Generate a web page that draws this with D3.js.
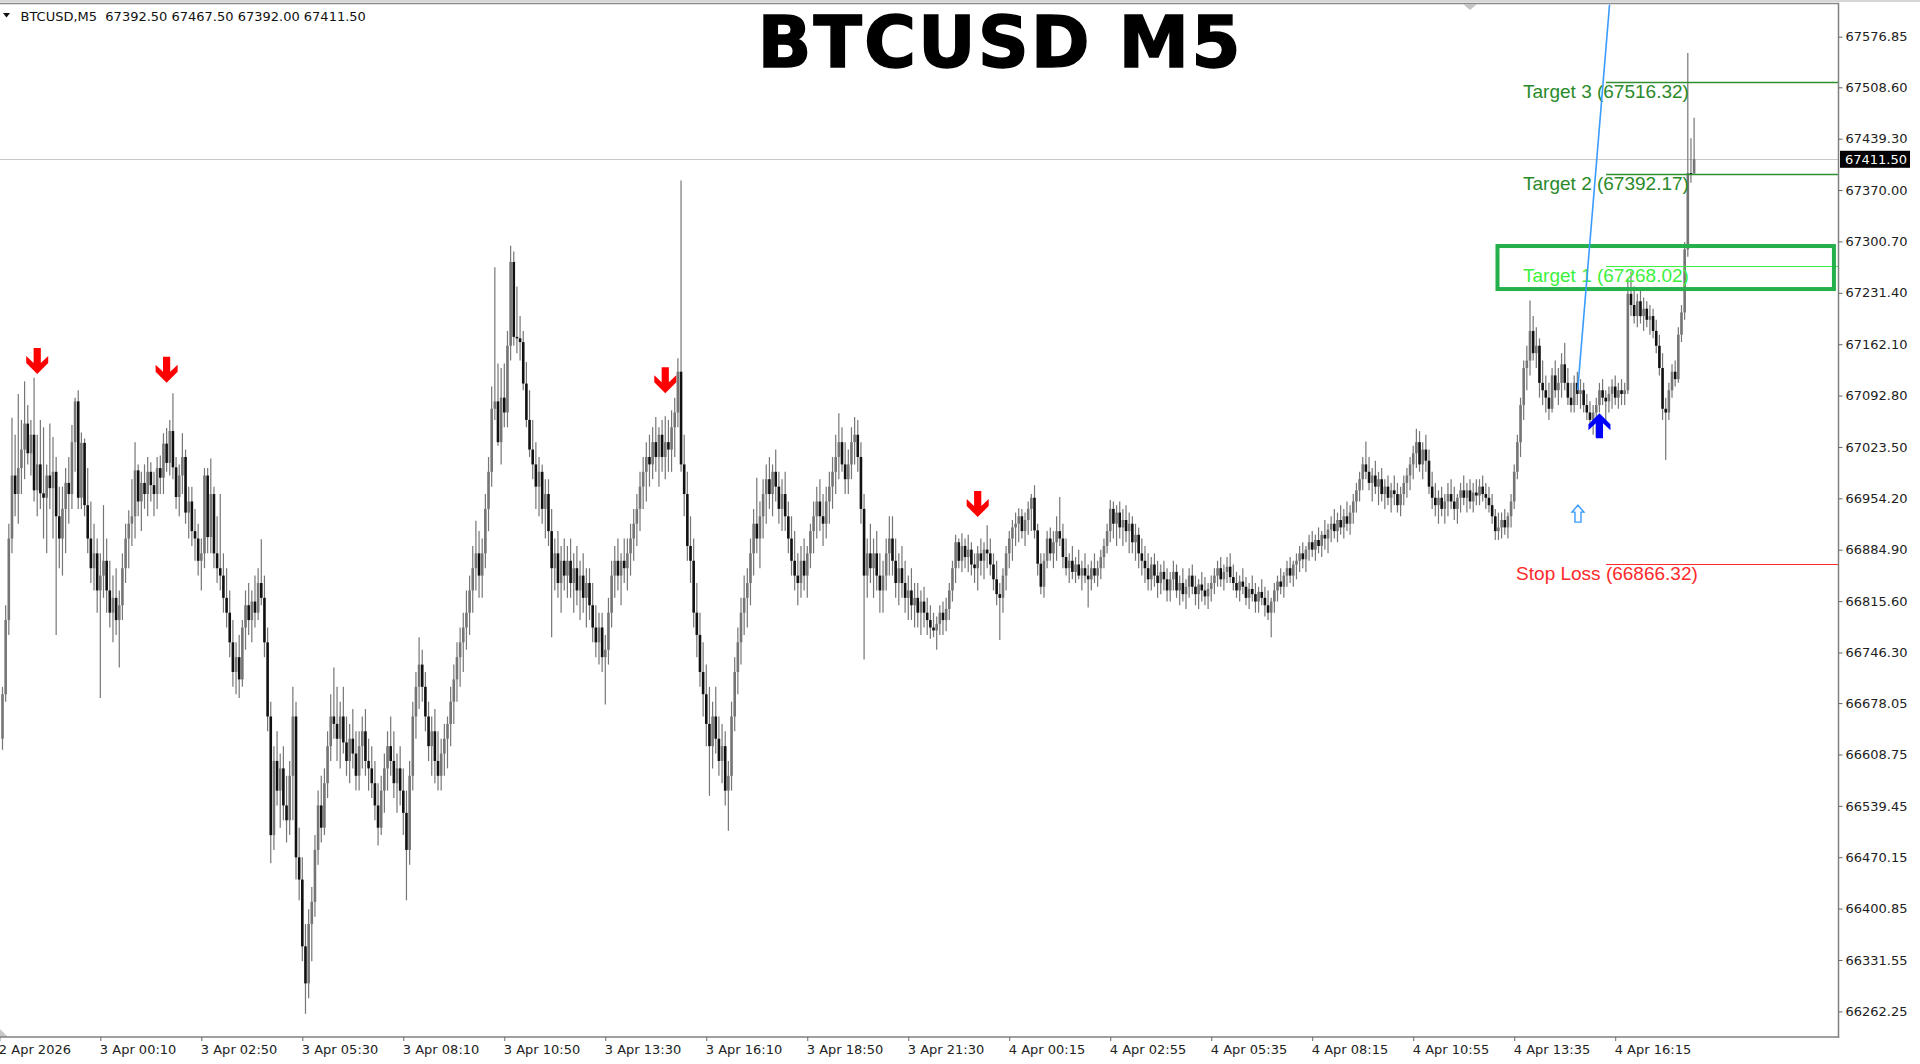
<!DOCTYPE html>
<html><head><meta charset="utf-8">
<script src="https://cdn.jsdelivr.net/npm/d3@7"></script>
<style>html,body{margin:0;padding:0;background:#fff;overflow:hidden}svg{display:block}</style>
</head><body>
<svg id="c" width="1920" height="1064"></svg>
<script>
// ---------------- DATA ----------------
const opens = [
66630,66690,66790,66900,66985,66960,66995,67020,67055,67015,
67040,66965,67000,66961,66955,66985,66968,66990,66930,66900,
66940,66975,66960,67030,67085,66955,67029,66945,66900,66860,
66880,66830,66850,66870,66830,66800,66820,66790,66810,66860,
66900,66920,66930,66992,66950,66975,66960,66990,66972,66960,
66995,66982,67028,67002,67045,66996,66956,66985,67010,66935,
66950,66910,66900,66870,66880,66985,66902,66960,66880,66860,
66850,66820,66800,66760,66720,66740,66710,66780,66810,66790,
66815,66800,66840,66820,66760,66660,66500,66600,66560,66590,
66540,66520,66580,66660,66470,66440,66350,66300,66380,66410,
66480,66540,66510,66570,66620,66660,66650,66630,66660,66625,
66600,66630,66610,66580,66620,66640,66600,66590,66570,66540,
66510,66560,66590,66620,66600,66570,66590,66560,66530,66480,
66580,66660,66700,66730,66700,66660,66620,66640,66600,66580,
66610,66630,66650,66680,66710,66740,66760,66780,66800,66830,
66860,66880,66850,66880,66940,66990,67075,67085,67030,67090,
67070,67160,67273,67172,67170,67165,67109,67060,67020,67000,
66970,66990,66940,66960,66910,66860,66880,66840,66870,66850,
66870,66840,66860,66830,66850,66820,66840,66810,66780,66760,
66780,66740,66750,66800,66850,66870,66850,66870,66860,66880,
66900,66920,66940,66970,66990,67010,67000,67030,67010,67040,
67010,67030,67020,67050,67070,67125,67000,66960,66890,66870,
66800,66770,66720,66690,66650,66620,66660,66630,66600,66620,
66560,66580,66660,66720,66760,66800,66820,66840,66880,66920,
66900,66930,66960,66980,66960,66990,66970,66940,66960,66930,
66900,66870,66850,66840,66870,66850,66880,66910,66930,66950,
66930,66920,66950,66970,66990,67010,67030,67000,66980,67000,
67030,67040,67010,66940,66850,66880,66860,66880,66850,66830,
66850,66880,66900,66870,66840,66860,66840,66820,66830,66810,
66820,66800,66815,66800,66790,66780,66776,66785,66800,66790,
66805,66830,66860,66895,66870,66890,66875,66885,66865,66860,
66880,66870,66885,66880,66865,66845,66825,66820,66850,66880,
66900,66915,66920,66930,66910,66925,66940,66955,66911,66866,
66835,66870,66900,66880,66895,66910,66900,66875,66860,66870,
66855,66865,66850,66860,66850,66845,66860,66850,66860,66875,
66890,66910,66940,66920,66935,66915,66925,66910,66920,66895,
66905,66880,66870,66860,66845,66865,66850,66840,66855,66845,
66830,66845,66855,66830,66840,66825,66835,66850,66835,66825,
66838,66830,66822,66832,66840,66850,66860,66845,66855,66862,
66848,66840,66830,66842,66835,66820,66832,66825,66815,66828,
66820,66810,66800,66815,66830,66842,66835,66850,66860,66850,
66865,66870,66880,66872,66885,66895,66885,66898,66890,66905,
66900,66912,66920,66910,66925,66915,66930,66920,66935,66950,
66965,66980,67000,66990,66975,66985,66970,66980,66960,66970,
66955,66965,66960,66945,66960,66975,66985,67000,67015,67030,
67000,67020,67005,66970,66955,66945,66955,66940,66950,66960,
66950,66940,66955,66965,66955,66965,66950,66962,66958,66970,
66960,66955,66945,66930,66910,66915,66925,66915,66930,66950,
66990,67030,67080,67130,67140,67180,67150,67160,67110,67100,
67090,67075,67120,67100,67110,67135,67110,67090,67080,67110,
67095,67100,67080,67070,67060,67070,67080,67100,67090,67085,
67095,67105,67090,67100,67095,67100,67230,67215,67200,67220,
67200,67210,67195,67200,67180,67160,67130,67075,67070,67100,
67125,67115,67175,67205,67290,67393,67392.5];
const highs = [
66700,66810,66920,67063,67040,67095,67060,67112,67080,67060,
67117,67040,67060,67050,67000,67055,67037,67010,66970,66970,
66995,67010,67053,67090,67100,67043,67035,66995,66950,66920,
66900,66880,66945,66900,66870,66850,66860,66830,66880,66920,
66938,66980,67030,67000,66990,67000,67010,67003,66990,67010,
67012,67042,67049,67060,67096,67010,67000,67042,67020,66970,
66970,66940,66920,66900,66995,66995,67008,66970,66930,66960,
66880,66860,66830,66790,66760,66770,66790,66830,66840,66830,
66850,66860,66899,66850,66780,66680,66620,66640,66610,66620,
66580,66600,66700,66680,66510,66470,66380,66400,66430,66500,
66560,66580,66590,66640,66690,66726,66700,66680,66700,66660,
66650,66670,66640,66640,66660,66670,66630,66620,66600,66570,
66580,66610,66640,66660,66640,66610,66620,66590,66560,66600,
66680,66720,66767,66750,66720,66680,66660,66670,66640,66630,
66650,66660,66700,66730,66760,66780,66800,66830,66850,66890,
66924,66910,66900,66960,67010,67105,67266,67136,67130,67136,
67180,67295,67287,67240,67200,67180,67138,67100,67060,67030,
67010,67000,66980,66980,66940,66900,66910,66890,66900,66890,
66900,66880,66890,66870,66880,66860,66860,66840,66810,66800,
66800,66770,66820,66870,66890,66900,66880,66900,66900,66920,
66940,66960,66990,67010,67030,67040,67050,67064,67050,67060,
67065,67060,67073,67090,67143,67383,67040,66990,66930,66900,
66840,66800,66760,66730,66700,66680,66700,66660,66650,66640,
66600,66680,66740,66780,66820,66850,66860,66900,66940,66982,
66950,66980,67000,67010,67000,67020,66990,66980,66990,66950,
66930,66910,66880,66890,66900,66890,66920,66950,66970,66980,
66960,66970,66990,67010,67040,67069,67050,67030,67020,67050,
67064,67060,67030,66960,66900,66920,66900,66910,66880,66870,
66900,66930,66930,66900,66880,66890,66870,66850,66860,66840,
66840,66830,66835,66820,66810,66800,66795,66810,66815,66820,
66840,66870,66905,66900,66907,66900,66905,66895,66880,66890,
66900,66895,66918,66900,66880,66870,66840,66860,66890,66910,
66925,66935,66941,66940,66935,66950,66960,66972,66920,66880,
66880,66910,66915,66910,66930,66956,66920,66900,66880,66890,
66875,66885,66870,66880,66865,66870,66880,66870,66885,66900,
66920,66952,66950,66945,66950,66940,66945,66935,66930,66920,
66915,66900,66890,66880,66875,66880,66870,66865,66870,66860,
66855,66870,66865,66850,66860,66845,66860,66865,66850,66845,
66855,66848,66840,66850,66860,66870,66875,66865,66875,66880,
66865,66855,66850,66860,66848,66840,66850,66840,66835,66845,
66835,66830,66820,66840,66850,66860,66855,66870,66875,66870,
66880,66890,66895,66890,66905,66910,66905,66915,66910,66925,
66920,66930,66940,66935,66945,66940,66950,66945,66960,66975,
66990,67010,67031,67010,66995,67005,66990,66995,66980,66985,
66975,66985,66975,66970,66985,66995,67010,67025,67048,67045,
67030,67040,67020,66990,66975,66965,66970,66960,66975,66980,
66970,66960,66975,66985,66975,66980,66975,66980,66980,66985,
66975,66970,66960,66940,66935,66935,66940,66935,66960,67000,
67040,67090,67140,67160,67221,67200,67185,67170,67140,67120,
67110,67130,67140,67130,67150,67164,67130,67110,67120,67125,
67115,67110,67095,67085,67080,67090,67110,67115,67100,67105,
67115,67120,67110,67115,67110,67250,67260,67240,67230,67235,
67225,67220,67215,67210,67195,67175,67150,67090,67110,67135,
67140,67185,67215,67300,67555,67440,67467.5];
const lows = [
66615,66680,66770,66880,66930,66920,66960,66980,67000,66985,
66950,66930,66940,66900,66880,66940,66900,66770,66860,66850,
66880,66920,66940,66990,66940,66940,66930,66880,66840,66830,
66800,66685,66820,66800,66780,66760,66770,66726,66790,66840,
66860,66890,66900,66930,66910,66940,66930,66950,66930,66940,
66960,66960,66990,66985,66980,66940,66930,66960,66920,66900,
66890,66870,66850,66830,66860,66880,66880,66860,66840,66830,
66800,66780,66740,66700,66690,66685,66700,66750,66770,66760,
66780,66790,66810,66740,66640,66462,66480,66540,66510,66520,
66490,66500,66520,66440,66412,66330,66259,66280,66330,66390,
66460,66490,66500,66550,66600,66630,66600,66590,66610,66580,
66570,66590,66560,66560,66590,66580,66560,66550,66520,66486,
66500,66530,66560,66580,66550,66530,66540,66500,66412,66460,
66560,66630,66670,66680,66640,66600,66580,66570,66560,66560,
66580,66590,66620,66650,66680,66700,66720,66750,66770,66800,
66830,66820,66820,66860,66910,66970,67060,67025,67000,67050,
67050,67140,67160,67150,67140,67100,67050,67010,66980,66940,
66930,66920,66900,66890,66767,66830,66820,66800,66830,66820,
66820,66800,66810,66790,66800,66780,66790,66760,66740,66730,
66720,66676,66730,66780,66820,66830,66810,66840,66830,66850,
66870,66890,66910,66940,66950,66970,66980,66990,66970,66990,
66980,66990,66990,67010,67050,66990,66930,66870,66840,66780,
66740,66700,66660,66620,66553,66590,66610,66580,66570,66540,
66506,66560,66640,66690,66730,66770,66780,66810,66850,66880,
66860,66900,66920,66940,66930,66950,66920,66910,66910,66880,
66850,66830,66810,66820,66830,66820,66860,66880,66900,66910,
66890,66900,66920,66940,66960,66980,66990,66960,66960,66980,
67000,66990,66920,66737,66820,66840,66820,66830,66800,66800,
66830,66850,66850,66820,66810,66820,66800,66790,66790,66780,
66780,66770,66780,66770,66765,66767,66750,66770,66770,66775,
66790,66815,66840,66860,66855,66860,66855,66850,66840,66830,
66850,66845,66860,66850,66830,66810,66763,66800,66830,66860,
66870,66890,66895,66900,66890,66905,66910,66900,66850,66825,
66820,66860,66870,66860,66870,66890,66860,66850,66840,66845,
66840,66845,66830,66840,66807,66830,66840,66835,66845,66860,
66880,66895,66900,66890,66900,66890,66895,66880,66880,66870,
66860,66850,66840,66830,66830,66835,66820,66825,66830,66815,
66815,66830,66820,66810,66815,66805,66820,66825,66810,66805,
66815,66810,66805,66815,66825,66835,66835,66830,66840,66840,
66830,66820,66815,66825,66810,66805,66815,66800,66800,66810,
66795,66790,66767,66800,66815,66825,66820,66835,66840,66835,
66845,66855,66860,66855,66870,66875,66870,66880,66875,66885,
66880,66895,66900,66895,66905,66900,66910,66905,66920,66935,
66950,66965,66980,66965,66950,66960,66945,66950,66940,66945,
66935,66945,66935,66930,66945,66955,66965,66980,66995,66990,
66980,66990,66960,66940,66930,66920,66930,66920,66930,66940,
66925,66920,66935,66945,66935,66940,66935,66945,66945,66950,
66940,66935,66920,66898,66898,66900,66905,66900,66915,66940,
66980,67010,67060,67100,67120,67140,67130,67090,67080,67070,
67060,67070,67090,67080,67090,67100,67080,67070,67070,67080,
67075,67070,67060,67050,67040,67037,67070,67080,67060,67070,
67075,67080,67075,67080,67080,67095,67200,67190,67185,67190,
67180,67185,67175,67170,67150,67120,67060,67006,67060,67090,
67105,67110,67165,67195,67280,67380,67392];
const closes = [
66690,66790,66900,66985,66960,66995,67020,67055,67015,67040,
66965,67000,66961,66955,66985,66968,66990,66930,66900,66940,
66975,66960,67030,67085,66955,67029,66945,66900,66860,66880,
66830,66850,66870,66830,66800,66820,66790,66810,66860,66900,
66920,66930,66992,66950,66975,66960,66990,66972,66960,66995,
66982,67028,67002,67045,66996,66956,66985,67010,66935,66950,
66910,66900,66870,66880,66985,66902,66960,66880,66860,66850,
66820,66800,66760,66720,66740,66710,66780,66810,66790,66815,
66800,66840,66820,66760,66660,66500,66600,66560,66590,66540,
66520,66580,66660,66470,66440,66350,66300,66380,66410,66480,
66540,66510,66570,66620,66660,66650,66630,66660,66625,66600,
66630,66610,66580,66620,66640,66600,66590,66570,66540,66510,
66560,66590,66620,66600,66570,66590,66560,66530,66480,66580,
66660,66700,66730,66700,66660,66620,66640,66600,66580,66610,
66630,66650,66680,66710,66740,66760,66780,66800,66830,66860,
66880,66850,66880,66940,66990,67075,67085,67030,67090,67070,
67160,67273,67172,67170,67165,67109,67060,67020,67000,66970,
66990,66940,66960,66910,66860,66880,66840,66870,66850,66870,
66840,66860,66830,66850,66820,66840,66810,66780,66760,66780,
66740,66750,66800,66850,66870,66850,66870,66860,66880,66900,
66920,66940,66970,66990,67010,67000,67030,67010,67040,67010,
67030,67020,67050,67070,67125,67000,66960,66890,66870,66800,
66770,66720,66690,66650,66620,66660,66630,66600,66620,66560,
66580,66660,66720,66760,66800,66820,66840,66880,66920,66900,
66930,66960,66980,66960,66990,66970,66940,66960,66930,66900,
66870,66850,66840,66870,66850,66880,66910,66930,66950,66930,
66920,66950,66970,66990,67010,67030,67000,66980,67000,67030,
67040,67010,66940,66850,66880,66860,66880,66850,66830,66850,
66880,66900,66870,66840,66860,66840,66820,66830,66810,66820,
66800,66815,66800,66790,66780,66776,66785,66800,66790,66805,
66830,66860,66895,66870,66890,66875,66885,66865,66860,66880,
66870,66885,66880,66865,66845,66825,66820,66850,66880,66900,
66915,66920,66930,66910,66925,66940,66955,66911,66866,66835,
66870,66900,66880,66895,66910,66900,66875,66860,66870,66855,
66865,66850,66860,66850,66845,66860,66850,66860,66875,66890,
66910,66940,66920,66935,66915,66925,66910,66920,66895,66905,
66880,66870,66860,66845,66865,66850,66840,66855,66845,66830,
66845,66855,66830,66840,66825,66835,66850,66835,66825,66838,
66830,66822,66832,66840,66850,66860,66845,66855,66862,66848,
66840,66830,66842,66835,66820,66832,66825,66815,66828,66820,
66810,66800,66815,66830,66842,66835,66850,66860,66850,66865,
66870,66880,66872,66885,66895,66885,66898,66890,66905,66900,
66912,66920,66910,66925,66915,66930,66920,66935,66950,66965,
66980,67000,66990,66975,66985,66970,66980,66960,66970,66955,
66965,66960,66945,66960,66975,66985,67000,67015,67030,67000,
67020,67005,66970,66955,66945,66955,66940,66950,66960,66950,
66940,66955,66965,66955,66965,66950,66962,66958,66970,66960,
66955,66945,66930,66910,66915,66925,66915,66930,66950,66990,
67030,67080,67130,67140,67180,67150,67160,67110,67100,67090,
67075,67120,67100,67110,67135,67110,67090,67080,67110,67095,
67100,67080,67070,67060,67070,67080,67100,67090,67085,67095,
67105,67090,67100,67095,67100,67230,67215,67200,67220,67200,
67210,67195,67200,67180,67160,67130,67075,67070,67100,67125,
67115,67175,67205,67290,67393,67392,67411.5];

const priceTicks = [67576.85,67508.60,67439.30,67370.00,67300.70,67231.40,67162.10,67092.80,67023.50,66954.20,
  66884.90,66815.60,66746.30,66678.05,66608.75,66539.45,66470.15,66400.85,66331.55,66262.25];
const timeLabels = ["2 Apr 2026","3 Apr 00:10","3 Apr 02:50","3 Apr 05:30","3 Apr 08:10","3 Apr 10:50","3 Apr 13:30",
  "3 Apr 16:10","3 Apr 18:50","3 Apr 21:30","4 Apr 00:15","4 Apr 02:55","4 Apr 05:35","4 Apr 08:15","4 Apr 10:55",
  "4 Apr 13:35","4 Apr 16:15"];
const timeTickBars = [-1,31,63,95,127,159,191,223,255,287,319,351,383,415,447,479,511];

const headerText = "BTCUSD,M5  67392.50 67467.50 67392.00 67411.50";
const titleText = "BTCUSD M5";
const currentPrice = 67411.50;

const levelNames  = ["Target 3","Target 2","Target 1","Stop Loss"];
const levelPrices = [67516.32, 67392.17, 67268.02, 66866.32];
const levelLabelBars = [481.8, 481.8, 481.8, 479.6];
const levelStartBar = 508.1;
const levelLineColors = ["#2f8f2f","#2f8f2f","#3cf23c","#ff2a2a"];
const levelTextColors = ["#2a8a2a","#2a8a2a","#3cf03c","#ff2a2a"];

const sellArrowBars   = [11, 52, 210, 309];
const sellArrowPrices = [67122, 67110, 67096, 66929];
const buyArrowBars    = [506];
const buyArrowPrices  = [67069];
const hintArrowBars   = [499.2];
const hintArrowPrices = [66945];

const trendBars   = [499.1, 509.2];
const trendPrices = [67100, 67620];
const zoneBars    = [473.7, 580.3];
const zonePrices  = [67236.5, 67294.5];

// ---------------- CHART ----------------
const svg = d3.select("#c");
const plotL = 0, plotR = 1838.5, plotT = 4, plotB = 1037;
const x = d3.scaleLinear().domain([0, 536]).range([2.5, 2.5 + 536 * 3.156]);
const y = d3.scaleLinear().domain([66227.7, 67620.95]).range([plotB, plotT]);

svg.append("rect").attr("width",1920).attr("height",1064).attr("fill","#fff");
svg.append("defs").append("clipPath").attr("id","plot")
  .append("rect").attr("x",plotL).attr("y",plotT).attr("width",plotR-plotL).attr("height",plotB-plotT);

// window borders
svg.append("rect").attr("x",0).attr("y",0).attr("width",1920).attr("height",2).attr("fill","#d6d6d6");
svg.append("line").attr("x1",0).attr("x2",plotR+0.5).attr("y1",plotT-0.5).attr("y2",plotT-0.5).attr("stroke","#8a8a8a").attr("stroke-width",1.5);

const plot = svg.append("g").attr("clip-path","url(#plot)");

// current price line
plot.append("line").attr("x1",plotL).attr("x2",plotR).attr("y1",Math.round(y(currentPrice))+0.5).attr("y2",Math.round(y(currentPrice))+0.5)
  .attr("stroke","#c8c8c8").attr("stroke-width",1);

// candles
const idx = d3.range(closes.length);
const cg = plot.append("g");
cg.selectAll("line.w").data(idx).join("line").attr("class","w")
  .attr("x1",i=>x(i)).attr("x2",i=>x(i))
  .attr("y1",i=>y(highs[i])).attr("y2",i=>y(lows[i]))
  .attr("stroke","#767676").attr("stroke-width",1.2);
cg.selectAll("rect.b").data(idx).join("rect").attr("class","b")
  .attr("x",i=>x(i)-1.3).attr("width",2.6)
  .attr("y",i=>y(Math.max(opens[i],closes[i])))
  .attr("height",i=>Math.max(1, Math.abs(y(opens[i])-y(closes[i]))))
  .attr("fill",i=>closes[i]>=opens[i] ? "#757575" : "#111111");

// level lines
const lv = plot.append("g");
levelPrices.forEach((p,k)=>{
  const yy = Math.round(y(p))+0.5;
  lv.append("line").attr("x1",x(levelStartBar)).attr("x2",plotR).attr("y1",yy).attr("y2",yy)
    .attr("stroke",levelLineColors[k]).attr("stroke-width",k<2?1.3:1.2);
  lv.append("text").attr("x",x(levelLabelBars[k])).attr("y",y(p)+16.5)
    .attr("font-family","Liberation Sans, Arial, sans-serif").attr("font-size",19)
    .attr("fill",levelTextColors[k]).text(`${levelNames[k]} (${p.toFixed(2)})`);
});

// zone rectangle
plot.append("rect").attr("x",x(zoneBars[0])).attr("y",y(zonePrices[1]))
  .attr("width",x(zoneBars[1])-x(zoneBars[0])).attr("height",y(zonePrices[0])-y(zonePrices[1]))
  .attr("fill","none").attr("stroke","#24b04a").attr("stroke-width",4);

// trend line
plot.append("line").attr("x1",x(trendBars[0])).attr("y1",y(trendPrices[0]))
  .attr("x2",x(trendBars[1])).attr("y2",y(trendPrices[1]))
  .attr("stroke","#3a9bff").attr("stroke-width",1.6);

// arrows
const downPath = "M0,0 L-11,-11 L-11,-18 L-3.6,-11 L-3.6,-26 L3.6,-26 L3.6,-11 L11,-18 L11,-11 Z";
const upPath   = "M0,0 L-11,11 L-11,17 L-3.6,10 L-3.6,25 L3.6,25 L3.6,10 L11,17 L11,11 Z";
plot.selectAll("path.sell").data(sellArrowBars).join("path").attr("class","sell")
  .attr("d",downPath).attr("fill","#ff0000")
  .attr("transform",(b,k)=>`translate(${x(b)},${y(sellArrowPrices[k])})`);
plot.selectAll("path.buy").data(buyArrowBars).join("path").attr("class","buy")
  .attr("d",upPath).attr("fill","#0000ff")
  .attr("transform",(b,k)=>`translate(${x(b)},${y(buyArrowPrices[k])})`);
plot.selectAll("path.hint").data(hintArrowBars).join("path").attr("class","hint")
  .attr("d","M0,0 L6,7 L3,7 L3,17 L-3,17 L-3,7 L-6,7 Z").attr("fill","#fff")
  .attr("stroke","#3a9bff").attr("stroke-width",1.4).attr("stroke-linejoin","miter")
  .attr("transform",(b,k)=>`translate(${x(b)},${y(hintArrowPrices[k])})`);

// title
svg.append("text").attr("x",1000).attr("y",67).attr("text-anchor","middle")
  .attr("font-family","DejaVu Sans, sans-serif").attr("font-weight","bold").attr("font-size",71)
  .attr("letter-spacing",2).attr("fill","#000").attr("stroke","#000").attr("stroke-width",1.4).text(titleText);

// header
svg.append("path").attr("d","M3,13 L10,13 L6.5,17.5 Z").attr("fill","#111");
svg.append("text").attr("x",20.5).attr("y",20.5).style("white-space","pre")
  .attr("font-family","DejaVu Sans, sans-serif").attr("font-size",13).attr("fill","#111").text(headerText);

// small markers
svg.append("path").attr("d","M1463,4 L1477,4 L1470,10 Z").attr("fill","#c4c4c4");
svg.append("path").attr("d","M0,1029 L0,1037 L8,1037 Z").attr("fill","#c8c8c8");

// frame lines
svg.append("line").attr("x1",plotR).attr("x2",plotR).attr("y1",plotT-1).attr("y2",plotB+0.5).attr("stroke","#808080").attr("stroke-width",1.5);
svg.append("line").attr("x1",0).attr("x2",plotR+0.75).attr("y1",plotB).attr("y2",plotB).attr("stroke","#808080").attr("stroke-width",1.5);

// right price axis
const ax = svg.append("g").attr("transform",`translate(${plotR},0)`)
  .call(d3.axisRight(y).tickValues(priceTicks).tickSize(4).tickPadding(3).tickFormat(d=>d.toFixed(2)));
ax.select(".domain").remove();
ax.selectAll(".tick line").attr("stroke","#666");
ax.selectAll(".tick text").attr("font-family","DejaVu Sans, sans-serif").attr("font-size",13).attr("fill","#222");

// bottom time axis
const bx = svg.append("g").attr("transform",`translate(0,${plotB})`)
  .call(d3.axisBottom(x).tickValues(timeTickBars).tickSize(4).tickFormat((d,i)=>timeLabels[i]));
bx.select(".domain").remove();
bx.selectAll(".tick line").attr("stroke","#666");
bx.selectAll(".tick text").attr("text-anchor","start").attr("x",-1).attr("y",17).attr("dy",0)
  .attr("font-family","DejaVu Sans, sans-serif").attr("font-size",13).attr("fill","#222");

// current price tag
const cy = y(currentPrice);
svg.append("rect").attr("x",plotR+1.5).attr("y",cy-8.5).attr("width",70).attr("height",17).attr("fill","#000");
svg.append("text").attr("x",plotR+6.5).attr("y",cy).attr("dy","0.36em")
  .attr("font-family","DejaVu Sans, sans-serif").attr("font-size",13).attr("fill","#fff").text(currentPrice.toFixed(2));
</script>
</body></html>
